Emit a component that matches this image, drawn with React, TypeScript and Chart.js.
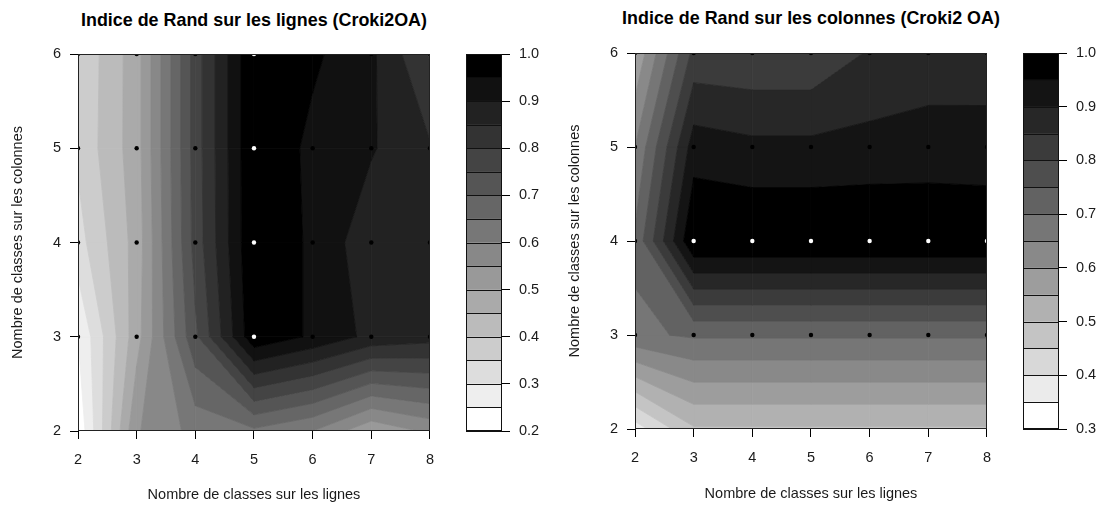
import React, { useEffect, useRef } from "react";
import { Chart, registerables } from "chart.js";
Chart.register(...registerables);

// ---------- data ----------
const xValues = [2, 3, 4, 5, 6, 7, 8];
const yValues = [2, 3, 4, 5, 6];

// Indice de Rand sur les lignes (rows = nombre de classes sur les colonnes)
const lignesY2 = [0.21, 0.545, 0.617, 0.64, 0.6, 0.51, 0.56];
const lignesY3 = [0.25, 0.48, 0.74, 0.99, 0.942, 0.886, 0.87];
const lignesY4 = [0.33, 0.47, 0.77, 1.0, 0.94, 0.867, 0.86];
const lignesY5 = [0.36, 0.478, 0.774, 1.0, 0.936, 0.905, 0.855];
const lignesY6 = [0.356, 0.478, 0.774, 1.0, 0.96, 0.91, 0.795];

// Indice de Rand sur les colonnes
const colonnesY2 = [0.375, 0.494, 0.494, 0.494, 0.494, 0.494, 0.494];
const colonnesY3 = [0.69, 0.707, 0.707, 0.707, 0.707, 0.707, 0.707];
const colonnesY4 = [0.71, 1.0, 1.0, 1.0, 1.0, 1.0, 1.0];
const colonnesY5 = [0.65, 0.926, 0.912, 0.912, 0.917, 0.919, 0.915];
const colonnesY6 = [0.556, 0.815, 0.81, 0.81, 0.855, 0.876, 0.881];

const levelsLignes = [0.2, 0.25, 0.3, 0.35, 0.4, 0.45, 0.5, 0.55, 0.6, 0.65, 0.7, 0.75, 0.8, 0.85, 0.9, 0.95, 1.0];
const levelsColonnes = [0.3, 0.35, 0.4, 0.45, 0.5, 0.55, 0.6, 0.65, 0.7, 0.75, 0.8, 0.85, 0.9, 0.95, 1.0];
const keyTicksLignes = [0.2, 0.3, 0.4, 0.5, 0.6, 0.7, 0.8, 0.9, 1.0];
const keyTicksColonnes = [0.3, 0.4, 0.5, 0.6, 0.7, 0.8, 0.9, 1.0];
const xTicks = [2, 3, 4, 5, 6, 7, 8];
const yTicks = [2, 3, 4, 5, 6];
const pointRows = [3, 4, 5, 6];

const titleLignes = "Indice de Rand sur les lignes (Croki2OA)";
const titleColonnes = "Indice de Rand sur les colonnes (Croki2 OA)";
const xLabel = "Nombre de classes sur les lignes";
const yLabel = "Nombre de classes sur les colonnes";

// ---------- helpers ----------
const FONT = "'Liberation Sans', Arial, Helvetica, sans-serif";
const TEXT = "#1a1a1a";

type Pt = { x: number; y: number; z: number };

function clipPoly(poly: Pt[], level: number, above: boolean): Pt[] {
  const out: Pt[] = [];
  for (let i = 0; i < poly.length; i++) {
    const a = poly[i];
    const b = poly[(i + 1) % poly.length];
    const ain = above ? a.z >= level : a.z <= level;
    const bin = above ? b.z >= level : b.z <= level;
    if (ain) out.push(a);
    if (ain !== bin) {
      const t = (level - a.z) / (b.z - a.z);
      out.push({ x: a.x + t * (b.x - a.x), y: a.y + t * (b.y - a.y), z: level });
    }
  }
  return out;
}

function grayColors(n: number): string[] {
  const cols: string[] = [];
  for (let k = 0; k < n; k++) {
    const g = Math.round(255 * (1 - k / (n - 1)));
    cols.push(`rgb(${g},${g},${g})`);
  }
  return cols;
}

function contourPlugin(grid: number[][], levels: number[], colors: string[]) {
  return {
    id: "contourFill",
    beforeDatasetsDraw(chart: any) {
      const { ctx, chartArea, scales } = chart;
      const xs = scales.x;
      const ys = scales.y;
      ctx.save();
      ctx.beginPath();
      ctx.rect(chartArea.left, chartArea.top, chartArea.right - chartArea.left, chartArea.bottom - chartArea.top);
      ctx.clip();
      for (let j = 0; j < yValues.length - 1; j++) {
        for (let i = 0; i < xValues.length - 1; i++) {
          const quad: Pt[] = [
            { x: xValues[i], y: yValues[j], z: grid[j][i] },
            { x: xValues[i + 1], y: yValues[j], z: grid[j][i + 1] },
            { x: xValues[i + 1], y: yValues[j + 1], z: grid[j + 1][i + 1] },
            { x: xValues[i], y: yValues[j + 1], z: grid[j + 1][i] },
          ];
          for (let k = 0; k < levels.length - 1; k++) {
            const poly = clipPoly(clipPoly(quad, levels[k], true), levels[k + 1], false);
            if (poly.length < 3) continue;
            ctx.beginPath();
            poly.forEach((p, n) => {
              const px = xs.getPixelForValue(p.x);
              const py = ys.getPixelForValue(p.y);
              if (n === 0) ctx.moveTo(px, py);
              else ctx.lineTo(px, py);
            });
            ctx.closePath();
            ctx.fillStyle = colors[k];
            ctx.fill();
            ctx.strokeStyle = colors[k];
            ctx.lineWidth = 0.8;
            ctx.stroke();
          }
        }
      }
      ctx.restore();
    },
    afterDraw(chart: any) {
      const { ctx, chartArea } = chart;
      ctx.save();
      ctx.strokeStyle = "#222";
      ctx.lineWidth = 1;
      ctx.strokeRect(
        Math.round(chartArea.left) + 0.5,
        Math.round(chartArea.top) + 0.5,
        Math.round(chartArea.right - chartArea.left) - 1,
        Math.round(chartArea.bottom - chartArea.top) - 1
      );
      ctx.restore();
    },
  };
}

function keyPlugin(levels: number[]) {
  return {
    id: "keyLines",
    afterDatasetsDraw(chart: any) {
      const { ctx, chartArea, scales } = chart;
      const ys = scales.y;
      ctx.save();
      ctx.strokeStyle = "#111";
      ctx.lineWidth = 1;
      levels.forEach((lv) => {
        const py = Math.round(ys.getPixelForValue(lv)) + 0.5;
        ctx.beginPath();
        ctx.moveTo(chartArea.left, py);
        ctx.lineTo(chartArea.right, py);
        ctx.stroke();
      });
      ctx.strokeRect(
        Math.round(chartArea.left) + 0.5,
        Math.round(chartArea.top) + 0.5,
        Math.round(chartArea.right - chartArea.left) - 1,
        Math.round(chartArea.bottom - chartArea.top) - 1
      );
      ctx.restore();
    },
  };
}

function contourConfig(
  rows: number[][],
  levels: number[],
  padTop: number,
  yAxisWidth: number,
  xAxisHeight: number,
  yTitlePad: number,
  xTitlePad: number
): any {
  const colors = grayColors(levels.length - 1);
  const pts: { x: number; y: number }[] = [];
  const ptCols: string[] = [];
  pointRows.forEach((yv) => {
    const j = yValues.indexOf(yv);
    xValues.forEach((xv, i) => {
      pts.push({ x: xv, y: yv });
      ptCols.push(rows[j][i] >= 0.97 ? "#ffffff" : "#000000");
    });
  });
  const tickFont = { family: FONT, size: 14.5 };
  return {
    type: "scatter",
    data: {
      datasets: [
        {
          data: pts,
          pointBackgroundColor: ptCols,
          pointBorderWidth: 0,
          pointRadius: 2.2,
          pointHoverRadius: 2.2,
          showLine: false,
          clip: 0,
        },
      ],
    },
    options: {
      responsive: false,
      animation: false,
      events: [],
      layout: { padding: { left: 0, right: 0, top: padTop, bottom: 0 } },
      plugins: { legend: { display: false }, tooltip: { enabled: false }, title: { display: false } },
      scales: {
        x: {
          type: "linear",
          min: 2,
          max: 8,
          afterBuildTicks: (s: any) => {
            s.ticks = xTicks.map((v) => ({ value: v }));
          },
          afterFit: (s: any) => {
            s.height = xAxisHeight;
          },
          ticks: { padding: 12, color: TEXT, font: tickFont, maxRotation: 0, autoSkip: false },
          grid: { drawOnChartArea: false, drawTicks: true, tickLength: 8, color: "#000", tickColor: "#000" },
          border: { display: false },
          title: { display: true, text: xLabel, color: TEXT, font: tickFont, padding: { top: 0, bottom: xTitlePad } },
        },
        y: {
          type: "linear",
          min: 2,
          max: 6,
          afterBuildTicks: (s: any) => {
            s.ticks = yTicks.map((v) => ({ value: v }));
          },
          afterFit: (s: any) => {
            s.width = yAxisWidth;
          },
          ticks: { padding: 9, color: TEXT, font: tickFont, autoSkip: false },
          grid: { drawOnChartArea: false, drawTicks: true, tickLength: 8, color: "#000", tickColor: "#000" },
          border: { display: false },
          title: { display: true, text: yLabel, color: TEXT, font: tickFont, padding: { top: yTitlePad, bottom: 0 } },
        },
      },
    },
    plugins: [contourPlugin(rows, levels, colors)],
  };
}

function keyConfig(levels: number[], keyTicks: number[], padLeft: number, top: number, bottom: number): any {
  const colors = grayColors(levels.length - 1);
  const datasets = levels.slice(0, -1).map((lo, k) => ({
    data: [[lo, levels[k + 1]]],
    backgroundColor: colors[k],
    borderWidth: 0,
    grouped: false,
    barPercentage: 1,
    categoryPercentage: 1,
  }));
  const tickFont = { family: FONT, size: 14.5 };
  return {
    type: "bar",
    data: { labels: ["niveau"], datasets },
    options: {
      responsive: false,
      animation: false,
      events: [],
      layout: { padding: { left: padLeft, right: 0, top, bottom } },
      plugins: { legend: { display: false }, tooltip: { enabled: false } },
      scales: {
        x: { display: false },
        y: {
          position: "right",
          min: levels[0],
          max: levels[levels.length - 1],
          afterBuildTicks: (s: any) => {
            s.ticks = keyTicks.map((v) => ({ value: v }));
          },
          afterFit: (s: any) => {
            s.width = 48;
          },
          ticks: {
            padding: 9,
            color: TEXT,
            font: tickFont,
            autoSkip: false,
            callback: (v: any) => Number(v).toFixed(1),
          },
          grid: { drawOnChartArea: false, drawTicks: true, tickLength: 8, color: "#000", tickColor: "#000" },
          border: { display: false },
        },
      },
    },
    plugins: [keyPlugin(levels)],
  };
}

const gridLignes = [lignesY2, lignesY3, lignesY4, lignesY5, lignesY6];
const gridColonnes = [colonnesY2, colonnesY3, colonnesY4, colonnesY5, colonnesY6];

function titleStyle(cx: number, top: number): React.CSSProperties {
  return {
    position: "absolute",
    left: cx - 260,
    width: 520,
    top,
    textAlign: "center",
    fontFamily: FONT,
    fontWeight: "bold",
    fontSize: "17.9px",
    lineHeight: "20px",
    whiteSpace: "nowrap",
    color: "#000",
  };
}

export default function App() {
  const c1 = useRef<HTMLCanvasElement>(null);
  const c2 = useRef<HTMLCanvasElement>(null);
  const c3 = useRef<HTMLCanvasElement>(null);
  const c4 = useRef<HTMLCanvasElement>(null);

  useEffect(() => {
    const charts = [
      new Chart(c1.current as HTMLCanvasElement, contourConfig(gridLignes, levelsLignes, 54, 78, 76, 9.3, 3.3)),
      new Chart(c2.current as HTMLCanvasElement, keyConfig(levelsLignes, keyTicksLignes, 20, 54, 76)),
      new Chart(c3.current as HTMLCanvasElement, contourConfig(gridColonnes, levelsColonnes, 53, 80, 78, 11.3, 4.3)),
      new Chart(c4.current as HTMLCanvasElement, keyConfig(levelsColonnes, keyTicksColonnes, 20, 53, 78)),
    ];
    return () => charts.forEach((c) => c.destroy());
  }, []);

  return (
    <div style={{ position: "absolute", left: 0, top: 0, width: 1107, height: 507, background: "#fff", overflow: "hidden" }}>
      <div style={titleStyle(254, 10)}>{titleLignes}</div>
      <div style={titleStyle(811, 8)}>{titleColonnes}</div>
      <canvas ref={c1} width={446} height={507} style={{ position: "absolute", left: 0, top: 0 }} />
      <canvas ref={c2} width={104} height={507} style={{ position: "absolute", left: 446, top: 0 }} />
      <canvas ref={c3} width={448} height={507} style={{ position: "absolute", left: 555, top: 0 }} />
      <canvas ref={c4} width={104} height={507} style={{ position: "absolute", left: 1003, top: 0 }} />
    </div>
  );
}
